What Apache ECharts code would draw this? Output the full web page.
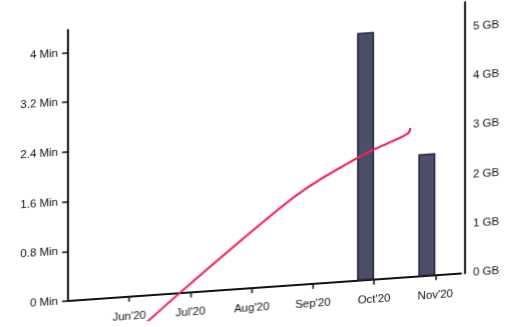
<!DOCTYPE html>
<html>
<head>
<meta charset="utf-8">
<style>
  html, body { margin: 0; padding: 0; background: #fff; overflow: hidden; }
  #wrap { width: 510px; height: 327px; transform: skewY(-4deg); transform-origin: 68px 0; }
  #chart { width: 510px; height: 327px; }
</style>
<script src="https://cdn.jsdelivr.net/npm/echarts@6/dist/echarts.min.js"></script>
</head>
<body>
<div id="wrap"><div id="chart"></div></div>
<script>
// month labels by index on the x axis (0 = May'20, not shown)
var months = ["May'20", "Jun'20", "Jul'20", "Aug'20", "Sep'20", "Oct'20", "Nov'20"];
var monthTicks = [1, 2, 3, 4, 5, 6];

// left axis (minutes) and right axis (GB) tick values
var minTicks = [0, 0.8, 1.6, 2.4, 3.2, 4];
var gbTicks = [0, 1, 2, 3, 4, 5];

// bars: [month index, GB]
var gbBars = [[5, 5.03], [6, 2.48]];

// curve: [month position, minutes]
var minCurve = [
  [1.0, -0.67], [1.25, -0.46], [1.82, 0], [2.63, 0.63], [3.61, 1.36],
  [4.1, 1.66], [4.76, 1.99], [5.04, 2.11], [5.46, 2.27], [5.57, 2.33], [5.59, 2.4]
];

var labelStyle = {
  color: '#111',
  fontSize: 11.5,
  fontFamily: 'Liberation Sans, Arial, sans-serif'
};

var chart = echarts.init(document.getElementById('chart'));
chart.setOption({
  animation: false,
  grid: { left: 68, right: 49, top: 30, bottom: 25 },
  xAxis: {
    type: 'value',
    min: 0,
    max: 6.42,
    interval: 1,
    splitLine: { show: false },
    axisLine: { lineStyle: { color: '#111', width: 2 } },
    axisTick: { length: 5, customValues: monthTicks, lineStyle: { color: '#111', width: 1.5 } },
    axisLabel: Object.assign({
      margin: 14,
      customValues: monthTicks,
      formatter: function (v) { return months[Math.round(v)]; }
    }, labelStyle)
  },
  yAxis: [{
    type: 'value',
    position: 'left',
    min: 0,
    max: 4.36,
    interval: 0.8,
    splitLine: { show: false },
    axisLine: { show: true, lineStyle: { color: '#111', width: 2 } },
    axisTick: { show: true, length: 6, customValues: minTicks, lineStyle: { color: '#111', width: 1.5 } },
    axisLabel: Object.assign({
      margin: 10,
      customValues: minTicks,
      formatter: function (v) { return v + ' Min'; }
    }, labelStyle)
  }, {
    type: 'value',
    position: 'right',
    offset: 4,
    min: 0,
    max: 5.5,
    interval: 1,
    splitLine: { show: false },
    axisLine: { show: true, lineStyle: { color: '#111', width: 2 } },
    axisTick: { show: false },
    axisLabel: Object.assign({
      margin: 8,
      customValues: gbTicks,
      formatter: function (v) { return v + ' GB'; }
    }, labelStyle)
  }],
  series: [{
    name: 'GB',
    type: 'bar',
    yAxisIndex: 1,
    barWidth: 17,
    barGap: '0%',
    data: gbBars,
    itemStyle: { color: '#4c4e6a', borderColor: '#25263a', borderWidth: 1.5 }
  }, {
    // empty partner so each bar sits left of its month tick
    name: 'pad',
    type: 'bar',
    yAxisIndex: 1,
    barWidth: 17,
    barGap: '0%',
    data: [[5, 0], [6, 0]],
    itemStyle: { color: 'rgba(0,0,0,0)' }
  }, {
    name: 'Min',
    type: 'line',
    yAxisIndex: 0,
    smooth: 0.3,
    clip: false,
    symbol: 'none',
    data: minCurve,
    lineStyle: { color: '#ef245a', width: 2.2 },
    z: 5
  }]
});
</script>
</body>
</html>
